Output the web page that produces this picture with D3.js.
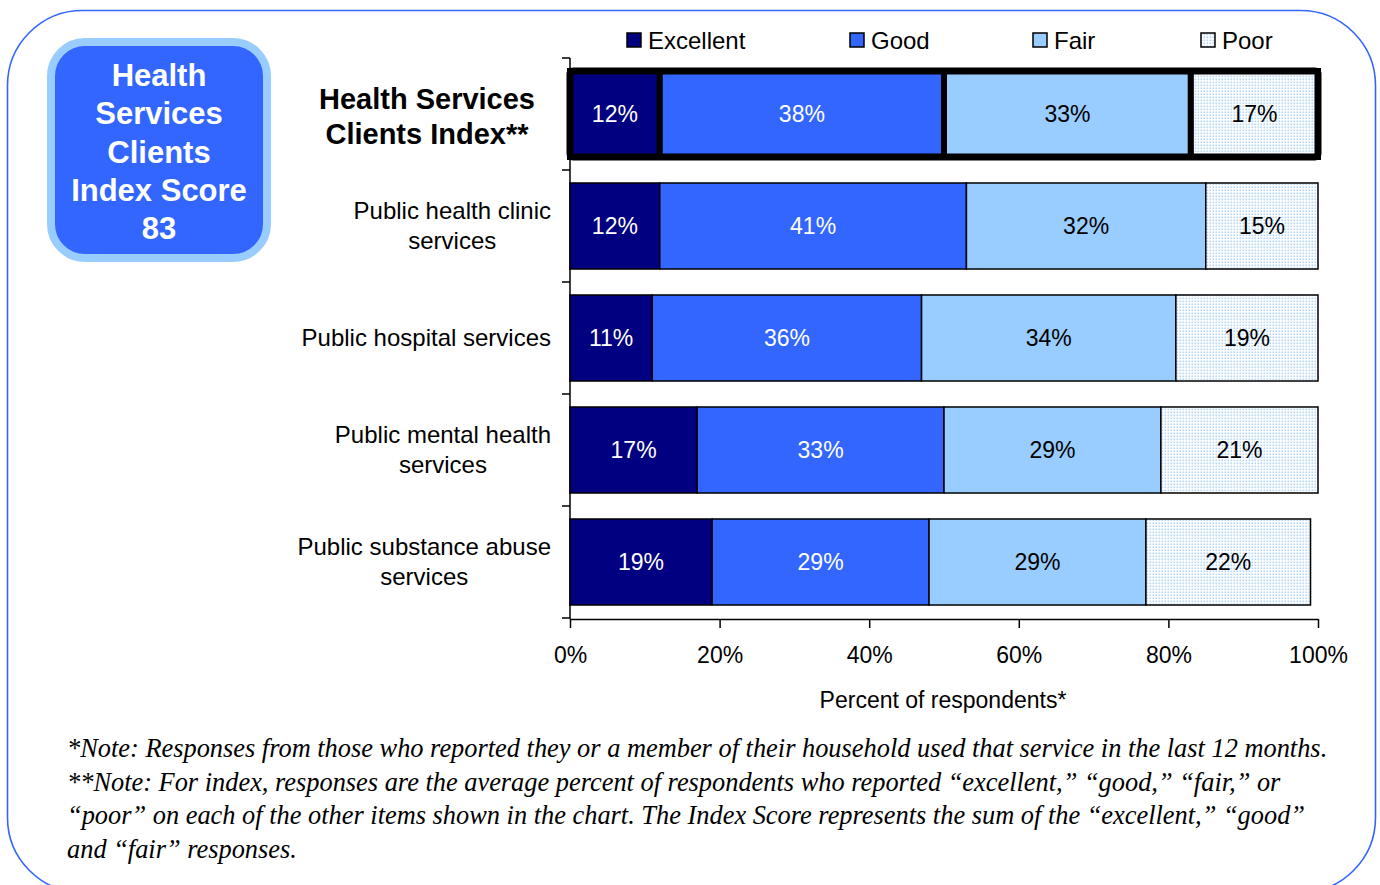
<!DOCTYPE html>
<html>
<head>
<meta charset="utf-8">
<script src="https://cdn.jsdelivr.net/npm/d3@7/dist/d3.min.js"></script>
<style>
  html, body { margin: 0; padding: 0; background: #fff; }
  svg { display: block; }
</style>
</head>
<body>
<svg id="chart" width="1380" height="885"></svg>
<script>
// Survey ratings of health services
const categories = [
  "Health Services\nClients Index**",
  "Public health clinic\nservices",
  "Public hospital services",
  "Public mental health\nservices",
  "Public substance abuse\nservices"
];
const seriesNames = ["Excellent", "Good", "Fair", "Poor"];
const excellent = [12, 12, 11, 17, 19];
const good      = [38, 41, 36, 33, 29];
const fair      = [33, 32, 34, 29, 29];
const poor      = [17, 15, 19, 21, 22];
const xTicks = [0, 20, 40, 60, 80, 100];
const indexScore = 83;
const scoreLines = ["Health", "Services", "Clients", "Index Score", String(indexScore)];
const notes = [
  "*Note: Responses from those who reported they or a member of their household used that service in the last 12 months.",
  "**Note: For index, responses are the average percent of respondents who reported \u201cexcellent,\u201d \u201cgood,\u201d \u201cfair,\u201d or",
  "\u201cpoor\u201d on each of the other items shown in the chart. The Index Score represents the sum of the \u201cexcellent,\u201d \u201cgood\u201d",
  "and \u201cfair\u201d responses."
];

const seriesValues = [excellent, good, fair, poor];
const colors = ["#000080", "#3366ff", "#99ccff", "url(#poorDots)"];
const labelColors = ["#fff", "#fff", "#000", "#000"];

const svg = d3.select("#chart");
const font = "Arial, 'Liberation Sans', sans-serif";

// dotted fill for the "Poor" segment
const defs = svg.append("defs");
const pat = defs.append("pattern").attr("id", "poorDots")
  .attr("patternUnits", "userSpaceOnUse").attr("width", 3).attr("height", 3);
pat.append("rect").attr("width", 3).attr("height", 3).attr("fill", "#ffffff");
pat.append("rect").attr("x", 0.5).attr("y", 0.5).attr("width", 1.6).attr("height", 1.6).attr("fill", "#b3d5f7");

// outer frame
svg.append("rect")
  .attr("x", 7.5).attr("y", 10.5).attr("width", 1368).attr("height", 882)
  .attr("rx", 75).attr("ry", 75)
  .attr("fill", "none").attr("stroke", "#3366ff").attr("stroke-width", 1.6);

// index score badge
svg.append("rect")
  .attr("x", 51).attr("y", 42).attr("width", 216).attr("height", 216)
  .attr("rx", 34).attr("ry", 34)
  .attr("fill", "#3366ff").attr("stroke", "#99ccff").attr("stroke-width", 8);
svg.append("g").selectAll("text").data(scoreLines).join("text")
  .attr("x", 159).attr("y", (d, i) => 86 + i * 38.3)
  .attr("text-anchor", "middle")
  .attr("font-family", font).attr("font-weight", "bold").attr("font-size", 31)
  .attr("fill", "#fff").text(d => d);

// scales
const x = d3.scaleLinear().domain([0, 100]).range([570, 1318]);
const y = d3.scaleBand().domain(categories).range([58, 618]).paddingInner(0.232).paddingOuter(0.116);

const stacks = categories.map((c, i) => {
  let acc = 0;
  return seriesValues.map((vals, s) => {
    const v = vals[i];
    const seg = { cat: c, row: i, s, v, x0: acc, x1: acc + v };
    acc += v;
    return seg;
  });
});

const g = svg.append("g");
stacks.forEach((row, i) => {
  const isIndex = i === 0;
  const rg = g.append("g");
  rg.selectAll("rect").data(row).join("rect")
    .attr("x", d => x(d.x0)).attr("y", d => y(d.cat))
    .attr("width", d => x(d.x1) - x(d.x0)).attr("height", y.bandwidth())
    .attr("fill", d => colors[d.s])
    .attr("stroke", "#000").attr("stroke-width", isIndex ? 6 : 1.5);
  if (isIndex) {
    rg.append("rect")
      .attr("x", x(row[0].x0)).attr("y", y(row[0].cat))
      .attr("width", x(row[3].x1) - x(row[0].x0)).attr("height", y.bandwidth())
      .attr("rx", 3).attr("fill", "none").attr("stroke", "#000").attr("stroke-width", 7);
  }
  rg.selectAll("text").data(row).join("text")
    .attr("x", d => (x(d.x0) + x(d.x1)) / 2)
    .attr("y", d => y(d.cat) + y.bandwidth() / 2 + 8)
    .attr("text-anchor", "middle")
    .attr("font-family", font).attr("font-size", 23)
    .attr("fill", d => labelColors[d.s])
    .text(d => d.v + "%");
});

// category axis line with ticks between rows
const boundaries = categories.map(c => y(c) - y.step() * y.paddingInner() / 2).concat([618]);
svg.append("line").attr("x1", 570).attr("x2", 570).attr("y1", 58).attr("y2", 619)
  .attr("stroke", "#000").attr("stroke-width", 1.5);
svg.append("g").selectAll("line").data(boundaries).join("line")
  .attr("x1", 562).attr("x2", 570).attr("y1", d => d).attr("y2", d => d)
  .attr("stroke", "#000").attr("stroke-width", 1.5);

// category labels: block right-aligned, lines centred within the block
categories.forEach((c, i) => {
  const lines = c.split("\n");
  const isIndex = i === 0;
  const fs = isIndex ? 29 : 24;
  const lh = isIndex ? 35 : 30;
  const right = isIndex ? 535 : 551;
  const cy = y(c) + y.bandwidth() / 2 + (isIndex ? 2 : 0);
  const tg = svg.append("g");
  const texts = tg.selectAll("text").data(lines).join("text")
    .attr("y", (d, k) => cy + (k - (lines.length - 1) / 2) * lh + fs * 0.35)
    .attr("font-family", font).attr("font-size", fs)
    .attr("font-weight", isIndex ? "bold" : "normal")
    .attr("fill", "#000").attr("text-anchor", "middle")
    .text(d => d);
  let maxW = 0;
  texts.each(function () { maxW = Math.max(maxW, this.getComputedTextLength()); });
  texts.attr("x", right - maxW / 2);
});

// x axis
const xAxis = svg.append("g").attr("transform", "translate(0,619)")
  .call(d3.axisBottom(x).tickValues(xTicks).tickSize(9).tickSizeOuter(0).tickFormat(d => d + "%"));
xAxis.select(".domain").attr("stroke", "#000").attr("stroke-width", 1.5);
xAxis.selectAll(".tick line").attr("stroke", "#000").attr("stroke-width", 1.5);
xAxis.selectAll(".tick text").attr("font-family", font).attr("font-size", 23)
  .attr("fill", "#000").attr("dy", 0).attr("y", 44);

svg.append("text").attr("x", 943).attr("y", 708).attr("text-anchor", "middle")
  .attr("font-family", font).attr("font-size", 23).attr("fill", "#000")
  .text("Percent of respondents*");

// legend
const legend = svg.append("g");
const legendX = [627, 850, 1033, 1201];
seriesNames.forEach((n, i) => {
  legend.append("rect").attr("x", legendX[i]).attr("y", 33).attr("width", 14).attr("height", 14)
    .attr("fill", colors[i]).attr("stroke", "#000").attr("stroke-width", 1.5);
  legend.append("text").attr("x", legendX[i] + 21).attr("y", 49)
    .attr("font-family", font).attr("font-size", 24).attr("fill", "#000").text(n);
});

// footnotes
const noteG = svg.append("g");
const nt = noteG.selectAll("text").data(notes).join("text")
  .attr("x", 67).attr("y", (d, i) => 757 + i * 33.5)
  .attr("font-family", "'Liberation Serif', 'DejaVu Serif', serif")
  .attr("font-style", "italic").attr("font-size", 100).attr("fill", "#000")
  .text(d => d);
const w0 = nt.nodes()[0].getComputedTextLength();
nt.attr("font-size", 100 * 1261 / w0);
</script>
</body>
</html>
